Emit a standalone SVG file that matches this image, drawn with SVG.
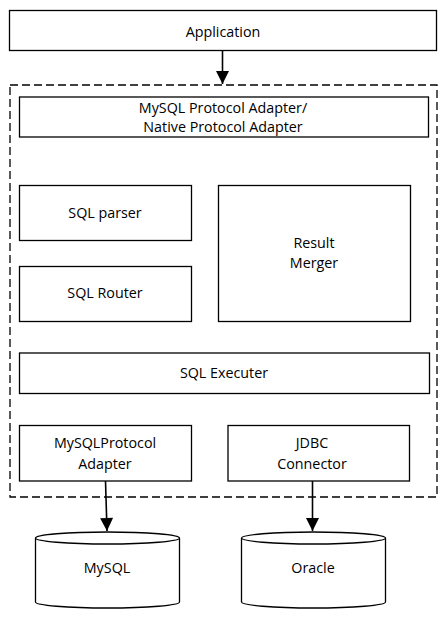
<svg xmlns="http://www.w3.org/2000/svg" width="446" height="617" viewBox="0 0 446 617">
<style>
.box{fill:#fff;stroke:#000;stroke-width:1.3}
.t{font-family:"Open Sans","Noto Sans","Liberation Sans",sans-serif;font-size:14.3px;fill:#000;text-anchor:middle}
.c{stroke:#000;stroke-width:1.6;fill:none}
.dash{fill:none;stroke:#000;stroke-width:1.3;stroke-dasharray:8 4}
</style>
<defs>
<marker id="ah2" viewBox="0 0 12 12" refX="12" refY="6" markerWidth="16" markerHeight="13" markerUnits="userSpaceOnUse" orient="auto">
<path d="M0,0 L12,6 L0,12 Z" fill="#000"/>
</marker>
</defs>
<rect id="container" class="dash" x="10" y="85" width="427" height="412"/>
<g id="application"><rect class="box" x="9.5" y="10.5" width="427" height="40"/><text class="t" x="223" y="36.5">Application</text></g>
<g id="protocol-adapter"><rect class="box" x="19.5" y="97" width="409" height="40"/><text class="t" x="223" y="113">MySQL Protocol Adapter/</text><text class="t" x="223" y="132">Native Protocol Adapter</text></g>
<g id="sql-parser"><rect class="box" x="19.5" y="185.5" width="172" height="55"/><text class="t" x="105" y="218">SQL parser</text></g>
<g id="sql-router"><rect class="box" x="19.5" y="266.5" width="172" height="55"/><text class="t" x="105" y="298">SQL Router</text></g>
<g id="result-merger"><rect class="box" x="218.5" y="185.5" width="192" height="136"/><text class="t" x="314" y="248">Result</text><text class="t" x="314" y="268">Merger</text></g>
<g id="sql-executer"><rect class="box" x="19.5" y="353" width="410" height="40.5"/><text class="t" x="224" y="378">SQL Executer</text></g>
<g id="mysql-protocol-adapter"><rect class="box" x="19.5" y="425.5" width="172" height="55.5"/><text class="t" x="105" y="448">MySQLProtocol</text><text class="t" x="105" y="469">Adapter</text></g>
<g id="jdbc-connector"><rect class="box" x="228" y="425.5" width="181.5" height="55.5"/><text class="t" x="312" y="448">JDBC</text><text class="t" x="312" y="469">Connector</text></g>
<g id="mysql"><path class="box" d="M35.5,538 L35.5,602 A72,6 0 0 0 179.5,602 L179.5,538 A72,6 0 0 0 35.5,538 A72,6 0 0 0 179.5,538"/><text class="t" x="107" y="573">MySQL</text></g>
<g id="oracle"><path class="box" d="M241.5,538 L241.5,602 A72,6 0 0 0 385.5,602 L385.5,538 A72,6 0 0 0 241.5,538 A72,6 0 0 0 385.5,538"/><text class="t" x="313" y="573">Oracle</text></g>
<g id="connectors">
<line class="c" x1="222.5" y1="51" x2="222.5" y2="84" marker-end="url(#ah2)"/>
<line class="c" x1="105.5" y1="481" x2="107" y2="531" marker-end="url(#ah2)"/>
<line class="c" x1="312.5" y1="481" x2="312.5" y2="531" marker-end="url(#ah2)"/>
</g>
</svg>
